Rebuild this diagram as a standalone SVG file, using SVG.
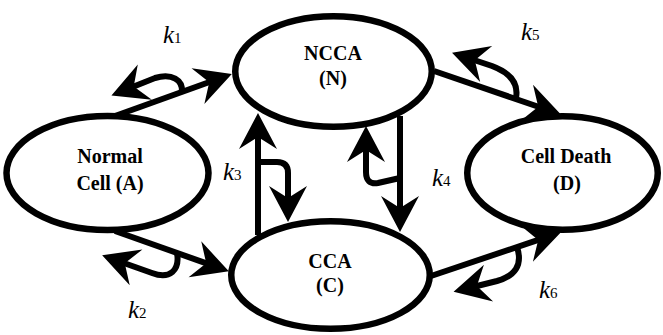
<svg xmlns="http://www.w3.org/2000/svg" width="663" height="335" viewBox="0 0 663 335">
<style>
.node{fill:#fff;stroke:#000;stroke-width:6.5}
.lbl{font-weight:bold;font-size:20px;text-anchor:middle;fill:#000}
.k{font-style:italic;font-size:25px;fill:#000}
.k tspan{font-style:normal;font-size:15px}
.c{fill:none;stroke:#000;stroke-width:6;marker-end:url(#arr)}
</style>
<defs>
<marker id="arr" markerUnits="userSpaceOnUse" orient="auto" overflow="visible" markerWidth="1" markerHeight="1">
<path d="M20,0 L-16,-19 L-4,0 L-16,19 Z" fill="#000"/>
</marker>
</defs>
<rect width="663" height="335" fill="#fff"/>
<g id="connectors">
<path class="c" d="M115,116 L213,80.8"/>
<path class="c" d="M182,92 C183,80 172,73 155,78 L130,88"/>
<path class="c" d="M434,71 L542,108"/>
<path class="c" d="M516,98 C519,82 508,72 492,66 L471,59"/>
<path class="c" d="M115,231 L210,264.6"/>
<path class="c" d="M177,253 C180,270 170,280 152,273 L121,262"/>
<path class="c" d="M431,276 L542,238.6"/>
<path class="c" d="M517,247 C523,265 515,276 497,281 L473,287"/>
<path class="c" d="M258,235 L258,133"/>
<path class="c" d="M258,162 L277,162 Q288,162 288,173 L288,202"/>
<path class="c" d="M400,116 L400,212"/>
<path class="c" d="M400,178 L378,183 Q366,185 366,172 L366,146"/>
</g>
<g id="A">
<ellipse class="node" cx="107.5" cy="173" rx="101" ry="57"/>
<text class="lbl" font-family="'Liberation Serif', 'Times New Roman', 'DejaVu Serif', serif" x="110" y="163">Normal</text>
<text class="lbl" font-family="'Liberation Serif', 'Times New Roman', 'DejaVu Serif', serif" x="110" y="190">Cell (A)</text>
</g>
<g id="N">
<ellipse class="node" cx="333.5" cy="71.5" rx="98.25" ry="55.25"/>
<text class="lbl" font-family="'Liberation Serif', 'Times New Roman', 'DejaVu Serif', serif" x="333" y="60">NCCA</text>
<text class="lbl" font-family="'Liberation Serif', 'Times New Roman', 'DejaVu Serif', serif" x="333" y="85">(N)</text>
</g>
<g id="C">
<ellipse class="node" cx="330.5" cy="275" rx="99.25" ry="53.75"/>
<text class="lbl" font-family="'Liberation Serif', 'Times New Roman', 'DejaVu Serif', serif" x="330" y="268">CCA</text>
<text class="lbl" font-family="'Liberation Serif', 'Times New Roman', 'DejaVu Serif', serif" x="330" y="292">(C)</text>
</g>
<g id="D">
<ellipse class="node" cx="562.5" cy="173" rx="95.25" ry="56.75"/>
<text class="lbl" font-family="'Liberation Serif', 'Times New Roman', 'DejaVu Serif', serif" x="566" y="163">Cell Death</text>
<text class="lbl" font-family="'Liberation Serif', 'Times New Roman', 'DejaVu Serif', serif" x="567" y="190">(D)</text>
</g>
<g id="labels" font-family="'Liberation Serif', 'Times New Roman', 'DejaVu Serif', serif">
<text class="k" x="163" y="43">k<tspan>1</tspan></text>
<text class="k" x="521" y="40">k<tspan>5</tspan></text>
<text class="k" x="223" y="180">k<tspan>3</tspan></text>
<text class="k" x="432" y="186">k<tspan>4</tspan></text>
<text class="k" x="128" y="318">k<tspan>2</tspan></text>
<text class="k" x="539" y="298">k<tspan>6</tspan></text>
</g>
</svg>
